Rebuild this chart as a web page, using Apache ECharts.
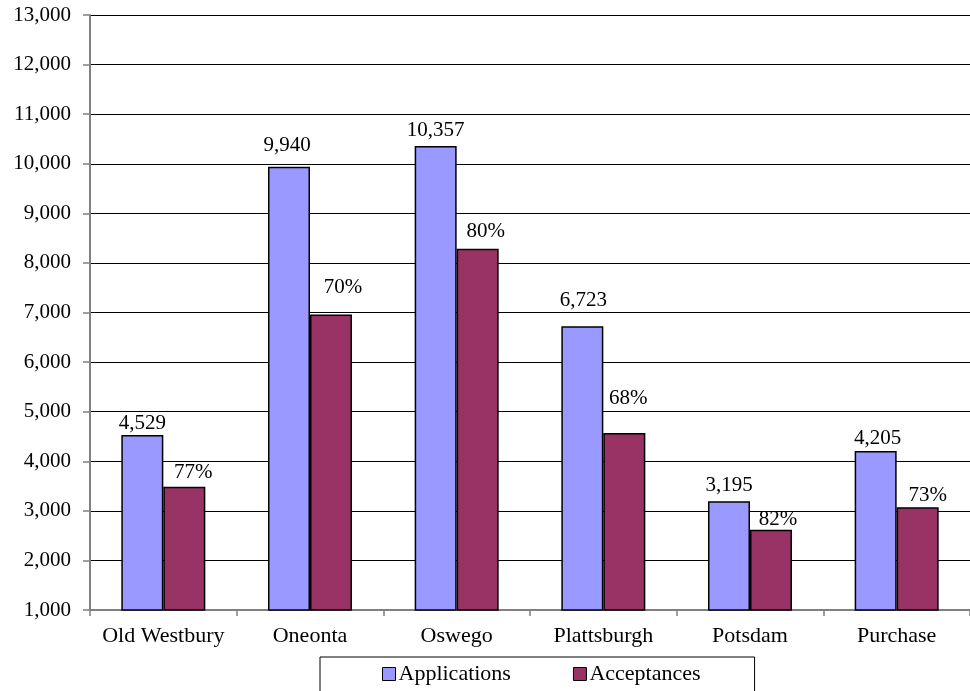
<!DOCTYPE html>
<html>
<head>
<meta charset="utf-8">
<script src="https://cdn.jsdelivr.net/npm/echarts@6/dist/echarts.min.js"></script>
<style>
  html, body { margin: 0; padding: 0; background: #fff; }
  #chart { width: 970px; height: 691px; }
</style>
</head>
<body>
<div id="chart"></div>
<script>
// Campus admissions: applications received vs. acceptances
const campuses = ['Old Westbury', 'Oneonta', 'Oswego', 'Plattsburgh', 'Potsdam', 'Purchase'];
const applications = [4529, 9940, 10357, 6723, 3195, 4205];
const acceptances = [3487, 6958, 8286, 4572, 2620, 3070];
const acceptRates = ['77%', '70%', '80%', '68%', '82%', '73%'];
const yTicks = { min: 1000, max: 13000, step: 1000 };

// hand-placed label nudges (x, y) for each bar
const appLabelShift = [[0, 0], [-2, -10], [0, -4], [1, -14], [0, -4], [2, -1]];
const accLabelShift = [[9, -3], [12, -16], [8, -6], [4, -23], [7, 1], [10, 0]];

const FONT = '"Liberation Serif", "Times New Roman", serif';

const chart = echarts.init(document.getElementById('chart'), null, { renderer: 'canvas' });

const fmt = v => v.toLocaleString('en-US');

chart.setOption({
  animation: false,
  backgroundColor: '#ffffff',
  textStyle: { fontFamily: FONT, color: '#000' },
  grid: { left: 90, top: 15, bottom: 81, width: 890, containLabel: false },
  legend: {
    left: 320,
    top: 657,
    padding: [6, 54, 40, 62],
    borderColor: '#000',
    borderWidth: 1,
    itemGap: 62,
    itemWidth: 13,
    itemHeight: 13,
    icon: 'rect',
    textStyle: { fontFamily: FONT, fontSize: 22, color: '#000', padding: [0, 0, 0, -2] },
    data: [
      { name: 'Applications', itemStyle: { borderColor: '#000', borderWidth: 1 } },
      { name: 'Acceptances', itemStyle: { borderColor: '#000', borderWidth: 1 } }
    ]
  },
  xAxis: {
    type: 'category',
    data: campuses,
    axisLine: { lineStyle: { color: '#808080', width: 2 } },
    axisTick: { show: true, length: 6, lineStyle: { color: '#808080', width: 1.5 } },
    axisLabel: { interval: 0, fontFamily: FONT, fontSize: 22, color: '#000', margin: 15 },
    splitLine: { show: false }
  },
  yAxis: {
    type: 'value',
    min: yTicks.min,
    max: yTicks.max,
    interval: yTicks.step,
    axisLine: { show: true, lineStyle: { color: '#808080', width: 2 } },
    axisTick: { show: true, length: 7, lineStyle: { color: '#808080', width: 1.5 } },
    axisLabel: { fontFamily: FONT, fontSize: 21, color: '#000', margin: 19, formatter: v => fmt(v) },
    splitLine: { show: true, lineStyle: { color: '#000', width: 1 } }
  },
  series: [
    {
      name: 'Applications',
      type: 'bar',
      clip: true,
      barWidth: 42,
      barGap: '0%',
      itemStyle: { color: '#9999FF', borderColor: '#000', borderWidth: 1.5 },
      data: applications.map((v, i) => ({
        value: v,
        label: { offset: appLabelShift[i] }
      })),
      label: {
        show: true,
        position: 'top',
        distance: 1,
        fontFamily: FONT,
        fontSize: 21,
        color: '#000',
        formatter: p => fmt(p.value)
      }
    },
    {
      name: 'Acceptances',
      type: 'bar',
      clip: true,
      barWidth: 42,
      barGap: '0%',
      itemStyle: { color: '#993366', borderColor: '#000', borderWidth: 1.5 },
      data: acceptances.map((v, i) => ({
        value: v,
        label: { offset: accLabelShift[i] }
      })),
      label: {
        show: true,
        position: 'top',
        distance: 1,
        fontFamily: FONT,
        fontSize: 21,
        color: '#000',
        formatter: p => acceptRates[p.dataIndex]
      }
    }
  ]
});
</script>
</body>
</html>
